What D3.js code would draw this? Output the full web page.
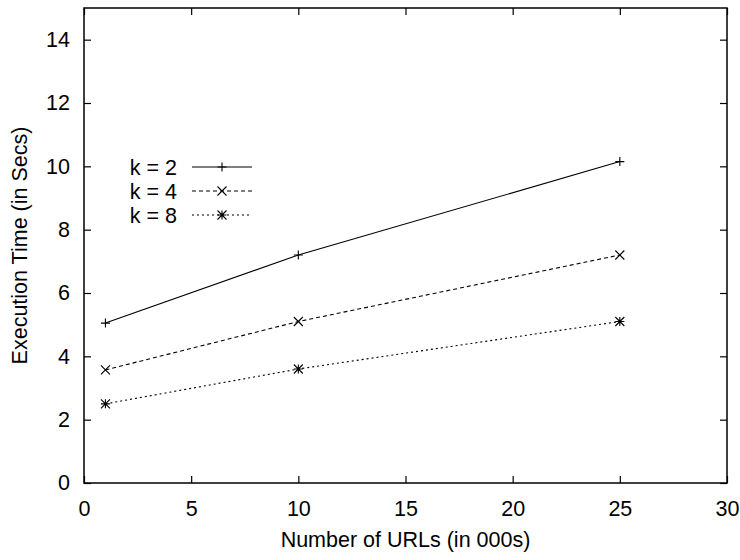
<!DOCTYPE html>
<html>
<head>
<meta charset="utf-8">
<script src="https://cdn.jsdelivr.net/npm/d3@7"></script>
<style>
  html, body { margin: 0; padding: 0; background: #fff; overflow: hidden; }
  svg { display: block; }
  text { font-family: "Liberation Sans", Arial, sans-serif; }
</style>
</head>
<body>
<div id="chart"></div>
<script>
/* DATA */
const urls = [1, 10, 25];
const k2 = [5.05, 7.2, 10.15];
const k4 = [3.57, 5.1, 7.2];
const k8 = [2.5, 3.6, 5.1];
const seriesNames = ["k = 2", "k = 4", "k = 8"];
const xTicks = [0, 5, 10, 15, 20, 25, 30];
const yTicks = [0, 2, 4, 6, 8, 10, 12, 14];

/* CONSTANTS */
const width = 740, height = 560,
      margin = {top: 8, right: 13, bottom: 77, left: 84},
      innerWidth = width - margin.left - margin.right,
      innerHeight = height - margin.top - margin.bottom,
      fontSize = "21.5px";

const series = [
  {name: seriesNames[0], values: k2, dash: null, marker: "plus"},
  {name: seriesNames[1], values: k4, dash: "4,3", marker: "cross"},
  {name: seriesNames[2], values: k8, dash: "2,3", marker: "star"}
];

const svg = d3.select("#chart").append("svg")
    .attr("width", width)
    .attr("height", height);

const g = svg.append("g")
    .attr("transform", `translate(${margin.left},${margin.top})`);

/* SCALES */
const xScale = d3.scaleLinear().domain([0, 30]).range([0, innerWidth]);
const yScale = d3.scaleLinear().domain([0, 15]).range([innerHeight, 0]);

/* AXES (ticks point inward, mirrored on top/right) */
const styleAxis = sel => {
  sel.selectAll("text").style("font-size", fontSize).attr("fill", "#000");
  sel.selectAll("line").attr("stroke", "#000").attr("stroke-width", 1.2);
  sel.select(".domain").remove();
};
const mirror = sel => {
  sel.selectAll("text").remove();
  sel.selectAll("line").attr("stroke", "#000").attr("stroke-width", 1.2);
  sel.select(".domain").remove();
};

g.append("g")
    .attr("transform", `translate(0,${innerHeight})`)
    .call(d3.axisBottom(xScale).tickValues(xTicks).tickSize(-7).tickPadding(18))
    .call(styleAxis);

g.append("g")
    .call(d3.axisTop(xScale).tickValues(xTicks).tickSize(-7))
    .call(mirror);

g.append("g")
    .call(d3.axisLeft(yScale).tickValues(yTicks).tickSize(-7).tickPadding(14))
    .call(styleAxis);

g.append("g")
    .attr("transform", `translate(${innerWidth},0)`)
    .call(d3.axisRight(yScale).tickValues(yTicks).tickSize(-7))
    .call(mirror);

/* FRAME */
g.append("rect")
    .attr("width", innerWidth)
    .attr("height", innerHeight)
    .attr("fill", "none")
    .attr("stroke", "#000")
    .attr("stroke-width", 1.5);

/* MARKERS */
const drawMarker = (sel, type, x, y) => {
  const s = 4.5;
  const p = d3.path();
  if (type === "plus" || type === "star") {
    p.moveTo(x - s, y); p.lineTo(x + s, y);
    p.moveTo(x, y - s); p.lineTo(x, y + s);
  }
  if (type === "cross" || type === "star") {
    p.moveTo(x - s, y - s); p.lineTo(x + s, y + s);
    p.moveTo(x - s, y + s); p.lineTo(x + s, y - s);
  }
  sel.append("path")
    .attr("d", p.toString())
    .attr("stroke", "#000")
    .attr("stroke-width", 1.1)
    .attr("fill", "none");
};

/* LINES */
const line = d3.line()
    .x((d, i) => xScale(urls[i]))
    .y(d => yScale(d));

series.forEach(s => {
  g.append("path")
    .datum(s.values)
    .attr("d", line)
    .attr("fill", "none")
    .attr("stroke", "#000")
    .attr("stroke-width", 1.1)
    .attr("stroke-dasharray", s.dash);

  s.values.forEach((v, i) => drawMarker(g, s.marker, xScale(urls[i]), yScale(v)));
});

/* LEGEND */
const legend = svg.append("g");
series.forEach((s, i) => {
  const ly = 167 + i * 24;
  legend.append("text")
    .attr("x", 177)
    .attr("y", ly)
    .attr("dy", "0.35em")
    .attr("text-anchor", "end")
    .style("font-size", fontSize)
    .text(s.name);
  legend.append("line")
    .attr("x1", 192).attr("x2", 252)
    .attr("y1", ly).attr("y2", ly)
    .attr("stroke", "#000")
    .attr("stroke-width", 1.1)
    .attr("stroke-dasharray", s.dash);
  drawMarker(legend, s.marker, 222, ly);
});

/* AXIS TITLES */
svg.append("text")
    .attr("x", margin.left + innerWidth / 2)
    .attr("y", 547)
    .attr("text-anchor", "middle")
    .style("font-size", fontSize)
    .text("Number of URLs (in 000s)");

svg.append("text")
    .attr("transform", `translate(27,${margin.top + innerHeight / 2}) rotate(-90)`)
    .attr("text-anchor", "middle")
    .style("font-size", fontSize)
    .text("Execution Time (in Secs)");
</script>
</body>
</html>
